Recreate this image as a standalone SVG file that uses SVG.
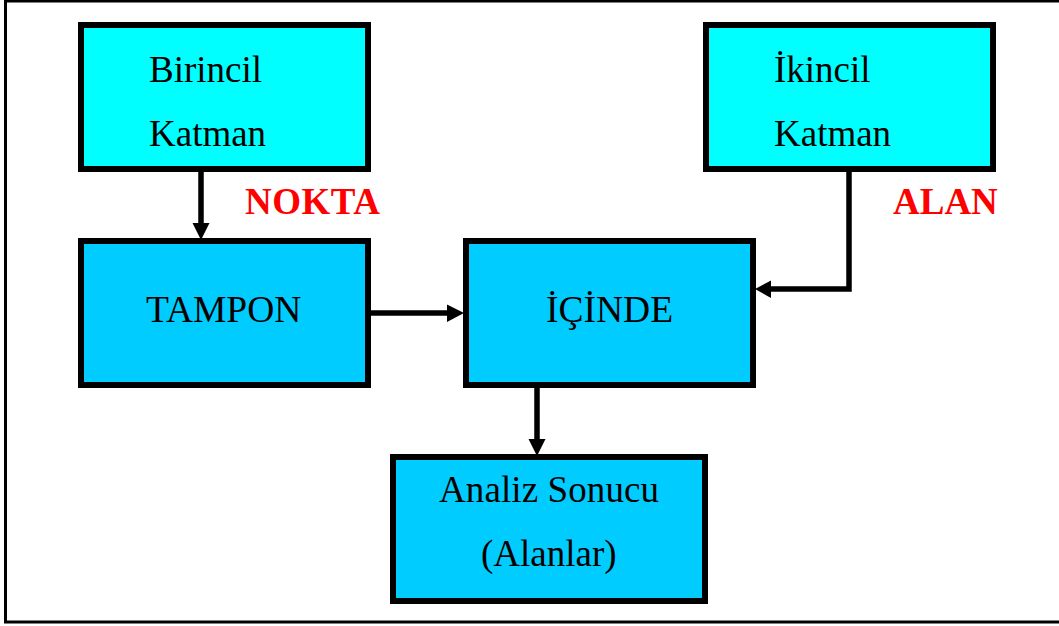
<svg xmlns="http://www.w3.org/2000/svg" width="1059" height="626" viewBox="0 0 1059 626">
<style>
text{font-family:"Liberation Serif","Times New Roman",serif;font-size:37px;fill:#000}
.u{font-size:37.500px}
.a{fill:#0ff;stroke:#000;stroke-width:6}
.b{fill:#0cf;stroke:#000;stroke-width:6}
.l{font-weight:bold;fill:#f00}
.c{fill:none;stroke:#000;stroke-width:5.500}
.h{fill:#000}
</style>
<rect width="1059" height="626" fill="#fff"/>
<path d="M5.500 1H1062M5.500 0V622H1062" fill="none" stroke="#000" stroke-width="3"/>
<g id="connectors">
<path class="c" d="M201 172V225"/><polygon class="h" points="192.500,223 209.500,223 201,240"/>
<path class="c" d="M849 172V289H769"/><polygon class="h" points="771,280.500 771,298 755,289"/>
<path class="c" d="M371 313H449"/><polygon class="h" points="447,304.500 447,322 464,313"/>
<path class="c" d="M537 388V441"/><polygon class="h" points="528.500,439 545.500,439 537,456"/>
</g>
<g id="birincil"><rect class="a" x="81" y="25" width="287" height="144"/><text x="149" y="81.500">Birincil</text><text x="149" y="145.500">Katman</text></g>
<g id="ikincil"><rect class="a" x="706" y="25" width="287" height="144"/><text x="774" y="81.500">İkincil</text><text x="774" y="145.500">Katman</text></g>
<g id="tampon"><rect class="b" x="81" y="241" width="287" height="144"/><text class="u" x="146" y="321.500">TAMPON</text></g>
<g id="icinde"><rect class="b" x="466" y="241" width="287" height="144"/><text class="u" x="546" y="321.500">İÇİNDE</text></g>
<g id="analiz"><rect class="b" x="393" y="457" width="312" height="144"/><text x="439" y="501.500" textLength="220">Analiz Sonucu</text><text x="481" y="565.500">(Alanlar)</text></g>
<g id="nokta"><text class="l" x="245" y="213.500" textLength="135">NOKTA</text></g>
<g id="alan"><text class="l" x="893" y="213.500">ALAN</text></g>
</svg>
